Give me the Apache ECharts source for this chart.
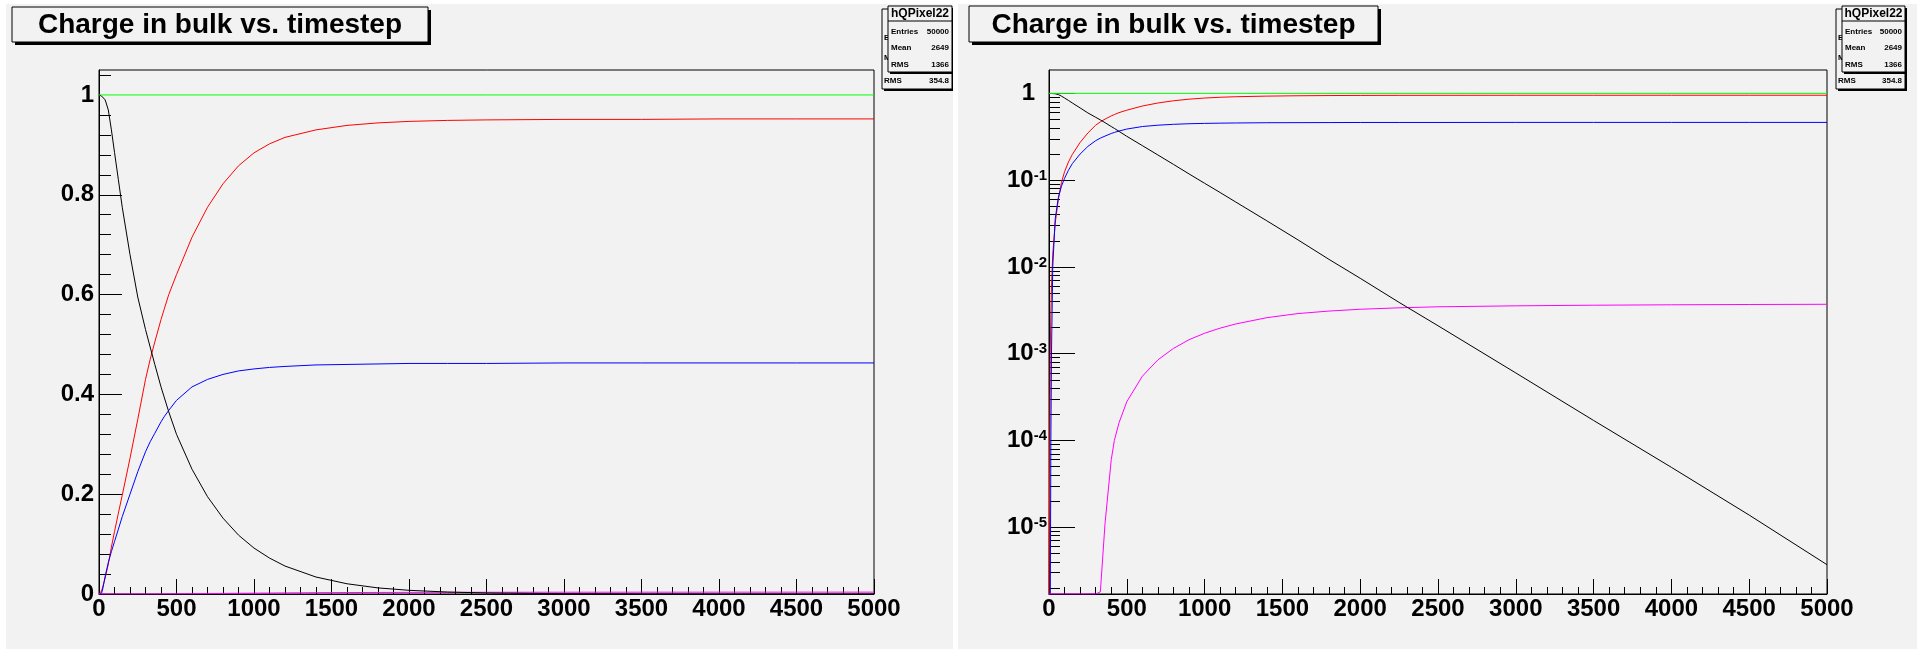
<!DOCTYPE html>
<html>
<head>
<meta charset="utf-8">
<title>Charge in bulk vs. timestep</title>
<script src="https://cdn.jsdelivr.net/npm/echarts@6.0.0/dist/echarts.min.js"></script>
<style>
  html, body { margin: 0; padding: 0; background: #fff; }
  body { width: 1931px; height: 657px; position: relative; overflow: hidden; }
  .pad { position: absolute; top: 4px; height: 645px; background: #f2f2f2; }
  #padLin { left: 6px; width: 947px; }
  #padLog { left: 958px; width: 959px; }
</style>
</head>
<body>
<div id="padLin" class="pad"></div>
<div id="padLog" class="pad"></div>
<script>
const steps = [0, 8, 12, 16, 24, 40, 60, 80, 100, 125, 150, 200, 250, 300, 330, 360, 400, 420, 450, 500,
  600, 700, 800, 900, 1000, 1100, 1200, 1400, 1600, 1800, 2000, 2250, 2500, 3000, 3500, 4000, 4500, 5000];

// black: charge left in bulk
const qBulk = [1.0, 1.0, 0.999, 0.998, 0.996, 0.99, 0.97, 0.93, 0.885, 0.83, 0.775, 0.68, 0.595, 0.53, 0.495, 0.46, 0.415, 0.395, 0.365, 0.32,
  0.25, 0.195, 0.152, 0.118, 0.092, 0.072, 0.056, 0.034, 0.0205, 0.0122, 0.0074, 0.0039, 0.0021, 0.0006, 0.00017, 0.000049, 0.0000138, 0.0000037];
// red
const qRed = [0, 0.001, 0.003, 0.006, 0.014, 0.032, 0.06, 0.094, 0.125, 0.162, 0.198, 0.272, 0.35, 0.43, 0.47, 0.505, 0.55, 0.57, 0.6, 0.64,
  0.715, 0.775, 0.822, 0.858, 0.884, 0.902, 0.915, 0.93, 0.939, 0.944, 0.947, 0.949, 0.95, 0.951, 0.951, 0.952, 0.952, 0.952];
// blue
const qBlue = [0, 0.000001, 0.0001, 0.001, 0.01, 0.036, 0.063, 0.085, 0.105, 0.13, 0.155, 0.2, 0.245, 0.285, 0.305, 0.322, 0.345, 0.355, 0.368, 0.388,
  0.415, 0.43, 0.44, 0.447, 0.451, 0.454, 0.456, 0.459, 0.46, 0.461, 0.462, 0.462, 0.462, 0.463, 0.463, 0.463, 0.463, 0.463];
// magenta
const qMagenta = [0, 0, 0, 0, 0, 0, 0, 0, 0, 0, 0, 0, 0, 0, 0.0000018, 0.000011, 0.00006, 0.0001, 0.00016, 0.00028,
  0.00055, 0.00085, 0.00115, 0.00145, 0.00172, 0.00197, 0.0022, 0.0026, 0.0029, 0.0031, 0.00325, 0.00338, 0.00347, 0.00356, 0.00362, 0.00366, 0.00369, 0.00371];
// green: total charge
const totalSteps = [0, 5000];
const qTotal = [1, 1];

const xTicks = [0, 500, 1000, 1500, 2000, 2500, 3000, 3500, 4000, 4500, 5000];
const linTicks = [0, 0.2, 0.4, 0.6, 0.8, 1];
const linMinorTicks = [0.04, 0.08, 0.12, 0.16, 0.24, 0.28, 0.32, 0.36, 0.44, 0.48, 0.52, 0.56,
  0.64, 0.68, 0.72, 0.76, 0.84, 0.88, 0.92, 0.96, 1.04];
const logMin = 1.7e-6, logMax = 1.86;

const FONT = '"Liberation Sans", Arial, sans-serif';
const black = '#000';

function pairs(xs, ys, log) {
  return xs.map(function (x, i) {
    let v = ys[i];
    // empty bins sit on the bottom of the frame, like ROOT does
    if (log && !(v > 0)) v = logMin;
    return [x, v];
  });
}

function lineSeries(xs, ys, color, log) {
  return {
    type: 'line',
    data: pairs(xs, ys, log),
    showSymbol: false,
    symbol: 'none',
    silent: true,
    animation: false,
    z: 5,
    lineStyle: { color: color, width: 1 },
    itemStyle: { color: color }
  };
}

function xAxisOpt() {
  return {
    type: 'value', min: 0, max: 5000, interval: 500,
    axisLine: { show: true, onZero: false, lineStyle: { color: black, width: 1 } },
    axisTick: { show: true, inside: true, length: 15, lineStyle: { color: black } },
    minorTick: { show: true, splitNumber: 5, length: 7, lineStyle: { color: black } },
    axisLabel: { customValues: xTicks, margin: 3, color: black, fontFamily: FONT, fontWeight: 'bold', fontSize: 24,
      formatter: function (v) { return String(v); } },
    splitLine: { show: false },
    minorSplitLine: { show: false }
  };
}

function titleBox(x, y, w, h) {
  return [
    { type: 'rect', z: 100, shape: { x: x + 3, y: y + 3, width: w, height: h }, style: { fill: black } },
    { type: 'rect', z: 101, shape: { x: x, y: y, width: w, height: h }, style: { fill: '#f2f2f2', stroke: black, lineWidth: 1 } },
    { type: 'text', z: 102, x: x + w / 2, y: y + h / 2 + 1,
      style: { text: 'Charge in bulk vs. timestep', font: 'bold 28px ' + FONT, fill: black,
        align: 'center', verticalAlign: 'middle', textAlign: 'center', textVerticalAlign: 'middle' } }
  ];
}

function txt(x, y, s, size, align, z) {
  return { type: 'text', z: z, x: x, y: y,
    style: { text: s, font: 'bold ' + size + 'px ' + FONT, fill: black,
      align: align, verticalAlign: 'middle', textAlign: align, textVerticalAlign: 'middle' } };
}

// two stacked stat boxes: a back one peeking out left/below, the front one with the name
function statBox(fx, fy, fw) {
  const bx = fx - 6, by = fy + 3, bw = fw + 6, bh = 80;
  const fh = 66;
  return [
    { type: 'rect', z: 104, shape: { x: bx + 2, y: by + 2, width: bw, height: bh }, style: { fill: black } },
    { type: 'rect', z: 105, shape: { x: bx, y: by, width: bw, height: bh }, style: { fill: '#f2f2f2', stroke: black, lineWidth: 1 } },
    txt(bx + 2, by + 29, 'Entries', 8, 'left', 106),
    txt(bx + 2, by + 49, 'Mean', 8, 'left', 106),
    txt(bx + 2, by + 72, 'RMS', 8, 'left', 106),
    txt(bx + bw - 3, by + 72, '354.8', 8, 'right', 106),
    { type: 'rect', z: 108, shape: { x: fx + 2, y: fy + 2, width: fw, height: fh }, style: { fill: black } },
    { type: 'rect', z: 109, shape: { x: fx, y: fy, width: fw, height: fh }, style: { fill: '#f2f2f2', stroke: black, lineWidth: 1 } },
    { type: 'line', z: 110, shape: { x1: fx, y1: fy + 15, x2: fx + fw, y2: fy + 15 }, style: { stroke: black, lineWidth: 1 } },
    txt(fx + fw / 2, fy + 8, 'hQPixel22', 12, 'center', 112),
    txt(fx + 3, fy + 26, 'Entries', 8, 'left', 112),
    txt(fx + fw - 3, fy + 26, '50000', 8, 'right', 112),
    txt(fx + 3, fy + 42, 'Mean', 8, 'left', 112),
    txt(fx + fw - 3, fy + 42, '2649', 8, 'right', 112),
    txt(fx + 3, fy + 59, 'RMS', 8, 'left', 112),
    txt(fx + fw - 3, fy + 59, '1366', 8, 'right', 112)
  ];
}

function seriesSet(log) {
  return [
    lineSeries(steps, qRed, '#ff0000', log),
    lineSeries(steps, qBlue, '#0000ff', log),
    lineSeries(steps, qMagenta, '#ff00ff', log),
    lineSeries(steps, qBulk, '#000000', log),
    lineSeries(totalSteps, qTotal, '#00ff00', log)
  ];
}

// ---- left pad: linear y ----
const linOption = {
  animation: false,
  grid: { left: 93, top: 66, width: 775, height: 524, show: true, backgroundColor: '#f2f2f2',
    borderColor: black, borderWidth: 1, containLabel: false, outerBoundsMode: 'none' },
  xAxis: xAxisOpt(),
  yAxis: [
    {
      type: 'value', min: 0, max: 1.05, z: 0,
      axisLine: { show: true, lineStyle: { color: black } },
      // the tick at 1 is covered by the green line in the picture
      axisTick: { show: true, inside: true, length: 23, customValues: linTicks.slice(0, -1), lineStyle: { color: black } },
      axisLabel: { customValues: linTicks, margin: 5, color: black, fontFamily: FONT, fontWeight: 'bold', fontSize: 24,
        formatter: function (v) { return String(Math.round(v * 10) / 10); } },
      splitLine: { show: false }
    },
    {
      type: 'value', min: 0, max: 1.05, position: 'left', offset: 0, z: 0,
      axisLine: { show: false },
      axisTick: { show: true, inside: true, length: 12, customValues: linMinorTicks, lineStyle: { color: black } },
      axisLabel: { show: false },
      splitLine: { show: false }
    }
  ],
  graphic: { elements: titleBox(6, 3, 416, 35).concat(statBox(882, 2, 64)) },
  series: seriesSet(false)
};

// ---- right pad: log y ----
const logMinorTicks = [];
for (let n = -6; n <= 0; n++) {
  for (let k = 2; k <= 9; k++) {
    const v = k * Math.pow(10, n);
    if (v > logMin && v < logMax) logMinorTicks.push(Math.log10(v));
  }
}

const logOption = {
  animation: false,
  grid: { left: 91, top: 66, width: 778, height: 524, show: true, backgroundColor: '#f2f2f2',
    borderColor: black, borderWidth: 1, containLabel: false, outerBoundsMode: 'none' },
  xAxis: xAxisOpt(),
  yAxis: [
    {
      type: 'log', logBase: 10, min: logMin, max: logMax, z: 0,
      axisLine: { show: true, lineStyle: { color: black } },
      axisTick: { show: true, inside: true, length: 26, lineStyle: { color: black } },
      axisLabel: {
        margin: 2, showMinLabel: false, showMaxLabel: false,
        color: black, fontFamily: FONT, fontWeight: 'bold', fontSize: 24,
        formatter: function (v) {
          const l = Math.log10(v);
          const n = Math.round(l);
          if (Math.abs(l - n) > 1e-6) return '';
          if (n === 0) return '{b|1}{g|}';
          return '{b|10}{s|' + n + '}';
        },
        rich: {
          b: { color: black, fontFamily: FONT, fontWeight: 'bold', fontSize: 24 },
          s: { color: black, fontFamily: FONT, fontWeight: 'bold', fontSize: 15, verticalAlign: 'top' },
          g: { width: 12 }
        }
      },
      splitLine: { show: false }
    },
    {
      type: 'value', min: Math.log10(logMin), max: Math.log10(logMax), position: 'left', offset: 0, z: 0,
      axisLine: { show: false },
      axisTick: { show: true, inside: true, length: 11, customValues: logMinorTicks, lineStyle: { color: black } },
      axisLabel: { show: false },
      splitLine: { show: false }
    }
  ],
  graphic: { elements: titleBox(11, 2, 409, 36).concat(statBox(884, 2, 63)) },
  series: seriesSet(true)
};

const chartLin = echarts.init(document.getElementById('padLin'));
chartLin.setOption(linOption);
const chartLog = echarts.init(document.getElementById('padLog'));
chartLog.setOption(logOption);
</script>
</body>
</html>
